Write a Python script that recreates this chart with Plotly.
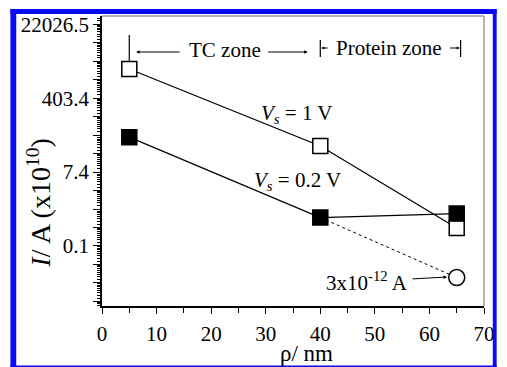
import math
import plotly.graph_objects as go

# ---- data ----
rho = [5, 40, 65]                 # nm
I_1V = [1960, 30.3, 0.357]        # I/A (x1e10), Vs = 1 V (open squares)
I_02V = [49, 0.63, 0.78]          # I/A (x1e10), Vs = 0.2 V (filled squares)
rho_min = [40, 65]
I_min = [0.63, 0.0245]            # dotted line to 3x10^-12 A
rho_circle = [65]
I_circle = [0.0245]
ytick_exp = [-2, 2, 6, 10]
ytick_text = ["0.1", "7.4", "403.4", "22026.5"]

W, H = 507, 367
L, R, T, B = 102, 13, 16, 61
PW, PH = W - L - R, H - T - B

def px(x):
    return (x - L) / PW

def py(y):
    return (H - B - y) / PH

FONT = "Liberation Serif, Times New Roman, serif"
BLACK = "black"

fig = go.Figure()
# lines first
fig.add_trace(go.Scatter(x=rho, y=I_1V, mode="lines", line=dict(color=BLACK, width=1.3),
                         showlegend=False, hoverinfo="skip"))
fig.add_trace(go.Scatter(x=rho, y=I_02V, mode="lines", line=dict(color=BLACK, width=1.3),
                         showlegend=False, hoverinfo="skip"))
fig.add_trace(go.Scatter(x=rho_min, y=I_min, mode="lines",
                         line=dict(color=BLACK, width=1, dash="dot"),
                         showlegend=False, hoverinfo="skip"))
# markers
fig.add_trace(go.Scatter(x=rho, y=I_1V, mode="markers",
                         marker=dict(symbol="square", size=15, color="white",
                                     line=dict(color=BLACK, width=1.5)),
                         showlegend=False))
fig.add_trace(go.Scatter(x=rho, y=I_02V, mode="markers",
                         marker=dict(symbol="square", size=15, color=BLACK,
                                     line=dict(color=BLACK, width=1.5)),
                         showlegend=False))
fig.add_trace(go.Scatter(x=rho_circle, y=I_circle, mode="markers",
                         marker=dict(symbol="circle", size=16, color="white",
                                     line=dict(color=BLACK, width=1.5)),
                         showlegend=False))

# y ticks (natural-log style axis)
major_k = list(range(-5, 11))
major_vals = [math.exp(k) for k in major_k]
major_text = [ytick_text[ytick_exp.index(k)] if k in ytick_exp else "" for k in major_k]
minor_vals = []
for k in range(-6, 11):
    for m in [1.2, 1.4, 1.6, 1.8, 2.0, 2.2, 2.4, 2.6]:
        minor_vals.append(math.exp(k) * m)

ylo = -5.25 / math.log(10)
yhi = 10.45 / math.log(10)

fig.update_layout(
    width=W, height=H,
    margin=dict(l=L, r=R, t=T, b=B, pad=0),
    paper_bgcolor="white", plot_bgcolor="white",
    font=dict(family=FONT, color=BLACK, size=21),
    xaxis=dict(range=[0, 70], showgrid=False, zeroline=False,
               showline=True, linecolor=BLACK, linewidth=1.5,
               ticks="outside", ticklen=6, tickwidth=1.2, tickcolor=BLACK,
               tickmode="array", tickvals=[0, 10, 20, 30, 40, 50, 60, 70],
               ticktext=["0", "10", "20", "30", "40", "50", "60", "70"],
               minor=dict(tickvals=[5, 15, 25, 35, 45, 55, 65], ticks="outside",
                          ticklen=5, tickwidth=1.2, tickcolor=BLACK),
               tickfont=dict(family=FONT, size=21, color=BLACK),
               ticklabelstandoff=2),
    yaxis=dict(type="log", range=[ylo, yhi], showgrid=False, zeroline=False,
               showline=True, linecolor=BLACK, linewidth=1.5,
               ticks="outside", ticklen=7, tickwidth=1.2, tickcolor=BLACK,
               tickmode="array", tickvals=major_vals, ticktext=major_text,
               minor=dict(tickvals=minor_vals, ticks="outside", ticklen=3,
                          tickwidth=0.8, tickcolor=BLACK),
               tickfont=dict(family=FONT, size=21, color=BLACK)),
)

shapes = []
# gray top/right frame
shapes.append(dict(type="line", xref="paper", yref="paper", x0=0, x1=1, y0=1, y1=1,
                   line=dict(color="#9a9a9a", width=1.5)))
shapes.append(dict(type="line", xref="paper", yref="paper", x0=1, x1=1, y0=0, y1=1,
                   line=dict(color="#9a9a9a", width=1.5)))
# zone bars
for (x0, y0, y1) in [(130, 35, 61), (326, 40, 57), (470, 40, 57)]:
    shapes.append(dict(type="line", xref="paper", yref="paper", x0=px(x0), x1=px(x0),
                       y0=py(y0), y1=py(y1), line=dict(color=BLACK, width=1.2)))
# blue border
BLUE = "#0a0af5"
for (x0, y0, x1, y1) in [(8, 9, 14, 367), (8, 9, 507, 14), (503, 9, 507, 367), (8, 365.5, 507, 367)]:
    shapes.append(dict(type="rect", xref="paper", yref="paper",
                       x0=px(x0), x1=px(x1), y0=py(y0), y1=py(y1),
                       line=dict(width=0), fillcolor=BLUE, layer="above"))
fig.update_layout(shapes=shapes)

ann = []
def text(x, y, s, size=21, angle=0):
    ann.append(dict(xref="paper", yref="paper", x=px(x), y=py(y), text=s, showarrow=False,
                    xanchor="center", yanchor="middle", textangle=angle,
                    font=dict(family=FONT, size=size, color=BLACK)))

def arrow(x0, y0, x1, y1, size=0.7):
    ann.append(dict(xref="paper", yref="paper", x=px(x1), y=py(y1),
                    axref="pixel", ayref="pixel", ax=x0 - x1, ay=y0 - y1,
                    text="", showarrow=True, arrowhead=2, arrowsize=size,
                    arrowwidth=1, arrowcolor=BLACK, standoff=0, startstandoff=0))

text(228, 50, "TC zone", 21)
arrow(182, 52, 137, 52)
arrow(272, 52, 313, 52)
text(396, 48, "Protein zone", 21)
arrow(335, 48, 327, 48, 0.6)
arrow(458, 48, 469, 48, 0.6)
text(302, 114, "<i>V</i><sub><i>s</i></sub> = 1 V", 21)
text(303, 181, "<i>V</i><sub><i>s</i></sub> = 0.2 V", 21)
text(374, 281, "3x10<sup>-12</sup> A", 21)
arrow(420, 279, 456, 277)
text(312, 354, "ρ/ nm", 23)
text(37, 203, "<i>I</i>/ A (x10<sup>10</sup>)", 28, -90)
fig.update_layout(annotations=ann)

fig.write_html("out.html")
